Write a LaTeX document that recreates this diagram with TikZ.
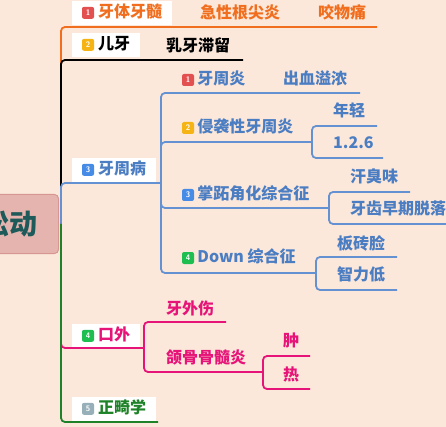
\documentclass[tikz,border=0pt]{standalone}
\usepackage{fontspec}
\newfontfamily\cjk{Noto Sans CJK SC}
\usetikzlibrary{positioning}

\definecolor{peach}{RGB}{252,232,218}
\definecolor{torange}{RGB}{240,110,30}
\definecolor{tblue}{RGB}{75,125,195}
\definecolor{lblue}{RGB}{100,145,210}
\definecolor{tpink}{RGB}{230,20,120}
\definecolor{tgreen}{RGB}{30,130,40}
\definecolor{bred}{RGB}{226,80,80}
\definecolor{byellow}{RGB}{245,180,20}
\definecolor{bblue}{RGB}{70,140,230}
\definecolor{bgreen}{RGB}{30,190,80}
\definecolor{bgrey}{RGB}{150,175,185}
\definecolor{rootfill}{RGB}{230,180,174}
\definecolor{rootline}{RGB}{214,150,146}
\definecolor{roottext}{RGB}{30,90,90}

\begin{document}
\begin{tikzpicture}[x=1pt,y=-1pt,
    topic/.style={fill=white,anchor=south west,inner xsep=10pt,inner ysep=4.5pt,
      text height=12pt,text depth=3pt,font=\cjk\bfseries\fontsize{16}{16}\selectfont},
    leaf/.style={anchor=west,inner sep=0pt,text height=12pt,text depth=3pt,
      font=\cjk\bfseries\fontsize{16}{16}\selectfont},
    badge/.style={fill=#1,rounded corners=2pt,minimum size=12pt,inner sep=0pt,
      text=white,font=\sffamily\bfseries\fontsize{8}{8}\selectfont},
    branch/.style={line width=1.8pt,rounded corners=4pt,draw=#1}]
  \useasboundingbox (0,0) rectangle (446,427);
  \fill[peach] (0,0) rectangle (446,427);

  % root, cut by the left edge
  \node[fill=rootfill,draw=rootline,line width=1pt,rounded corners=4pt,anchor=east,
    minimum height=59pt,inner xsep=21pt,text=roottext,
    font=\cjk\bfseries\fontsize{28}{28}\selectfont] (root) at (59,224) {牙齿松动};
  \coordinate (hub) at ([xshift=2pt]root.east);

  % 1 牙体牙髓
  \node[topic,text=torange] (ytys) at (72,25) {\hspace{16pt}牙体牙髓};
  \node[badge=bred] at ([xshift=16pt]ytys.west) {1};
  \node[leaf,text=torange] (jxgjy) at (200,14) {急性根尖炎};
  \node[leaf,text=torange] (ywt) at (318,14) {咬物痛};
  \coordinate (e1) at (377,27);

  % 2 儿牙
  \node[topic,text=black] (ey) at (72,57) {\hspace{16pt}儿牙};
  \node[badge=byellow] at ([xshift=16pt]ey.west) {2};
  \node[leaf,text=black] (rytl) at (166,47) {乳牙滞留};
  \coordinate (e2) at (243,60);

  % 3 牙周病
  \node[topic,text=tblue] (yzb) at (72,182) {\hspace{16pt}牙周病};
  \node[badge=bblue] at ([xshift=16pt]yzb.west) {3};
  \coordinate (jb) at (161,183);

  \node[badge=bred] (b31) at (188,80) {1};
  \node[leaf,text=tblue,right=3pt of b31] (yzy) {牙周炎};
  \node[leaf,text=tblue] (cxyn) at (283,80) {出血溢浓};
  \coordinate (e31) at (360,93);

  \node[badge=byellow] (b32) at (188,128) {2};
  \node[leaf,text=tblue,right=3pt of b32] (qxx) {侵袭性牙周炎};
  \coordinate (j32) at (312,142);
  \node[leaf,text=tblue] (nq) at (333,112) {年轻};
  \node[leaf,text=tblue] (n126) at (333,144) {1.2.6};
  \coordinate (e321) at (377,126);
  \coordinate (e322) at (383,158);

  \node[badge=bblue] (b33) at (188,195) {3};
  \node[leaf,text=tblue,right=3pt of b33] (zz) {掌跖角化综合征};
  \coordinate (j33) at (329,208);
  \node[leaf,text=tblue] (cxw) at (350,178) {汗臭味};
  \node[leaf,text=tblue] (yczq) at (350,210) {牙齿早期脱落};
  \coordinate (e331) at (410,192);
  \coordinate (e332) at (470,224);

  \node[badge=bgreen] (b34) at (188,258) {4};
  \node[leaf,text=tblue,right=3pt of b34] (down) {Down 综合征};
  \coordinate (j34) at (316,273);
  \node[leaf,text=tblue] (bzl) at (337,245) {板砖脸};
  \node[leaf,text=tblue] (zld) at (337,276) {智力低};
  \coordinate (e341) at (397,257);
  \coordinate (e342) at (397,290);

  % 4 口外
  \node[topic,text=tpink] (kw) at (72,348) {\hspace{16pt}口外};
  \node[badge=bgreen] at ([xshift=16pt]kw.west) {4};
  \coordinate (j4) at (144,348);
  \node[leaf,text=tpink] (ywsh) at (166,310) {牙外伤};
  \node[leaf,text=tpink] (hggsy) at (166,359) {颌骨骨髓炎};
  \coordinate (e41) at (226,322);
  \coordinate (j42) at (263,372);
  \node[leaf,text=tpink] (zhong) at (283,342) {肿};
  \node[leaf,text=tpink] (re) at (283,376) {热};
  \coordinate (e421) at (310,356);
  \coordinate (e422) at (310,389);

  % 5 正畸学
  \node[topic,text=tgreen] (zjx) at (72,421) {\hspace{16pt}正畸学};
  \node[badge=bgrey] at ([xshift=16pt]zjx.west) {5};
  \coordinate (e5) at (158,422);

  \draw[branch=torange] (hub) |- (e1);
  \draw[branch=black] (hub) |- (e2);
  \draw[branch=lblue] (hub) |- (jb);
  \draw[branch=lblue] (jb) |- (e31);
  \draw[branch=lblue] (jb) |- (j32);
  \draw[branch=lblue] (jb) |- (j33);
  \draw[branch=lblue] (jb) |- (j34);
  \draw[branch=lblue] (j32) |- (e321);
  \draw[branch=lblue] (j32) |- (e322);
  \draw[branch=lblue] (j33) |- (e331);
  \draw[branch=lblue] (j33) |- (e332);
  \draw[branch=lblue] (j34) |- (e341);
  \draw[branch=lblue] (j34) |- (e342);
  \draw[branch=tpink] (hub) |- (j4);
  \draw[branch=tpink] (j4) |- (e41);
  \draw[branch=tpink] (j4) |- (j42);
  \draw[branch=tpink] (j42) |- (e421);
  \draw[branch=tpink] (j42) |- (e422);
  \draw[branch=tgreen] (hub) |- (e5);
\end{tikzpicture}
\end{document}
